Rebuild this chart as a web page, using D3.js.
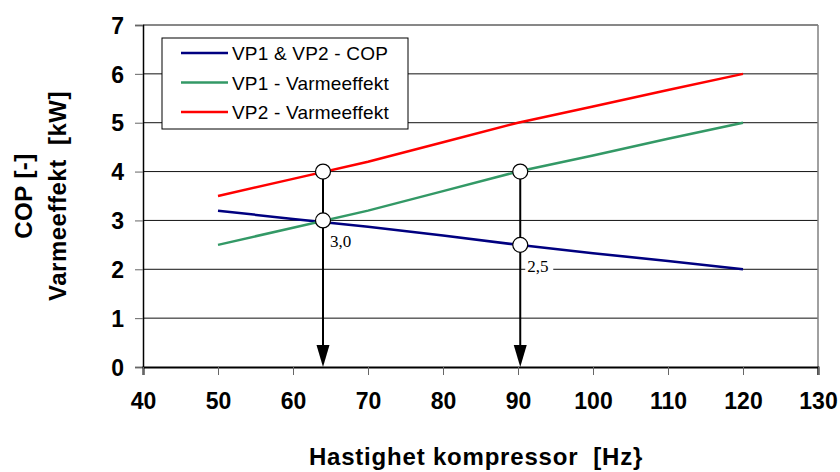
<!DOCTYPE html>
<html><head><meta charset="utf-8">
<script src="https://cdn.jsdelivr.net/npm/d3@7"></script>
<style>body{margin:0;background:#fff}svg{display:block}</style>
</head><body>
<script>
const speeds = [50, 60, 70, 80, 90, 100, 110, 120];
const copValues = [3.2, 3.03, 2.87, 2.69, 2.5, 2.33, 2.17, 2.0];
const vp1Heat = [2.5, 2.85, 3.2, 3.6, 4.0, 4.33, 4.67, 5.0];
const vp2Heat = [3.5, 3.85, 4.2, 4.6, 5.0, 5.33, 5.67, 6.0];
const seriesNames = ["VP1 & VP2 - COP", "VP1 - Varmeeffekt", "VP2 - Varmeeffekt"];
const seriesColors = ["#000080", "#339966", "#ff0000"];
const xTicks = [40, 50, 60, 70, 80, 90, 100, 110, 120, 130];
const yTicks = [0, 1, 2, 3, 4, 5, 6, 7];
const markX = [64.0, 64.0, 90.3, 90.3];
const markY = [4, 3, 4, 2.5];
const arrowX = [64.0, 90.3];
const arrowTopY = [4, 4];
const noteLabels = ["3,0", "2,5"];
const noteX = [64.0, 90.3];
const noteY = [3, 2.5];

const W = 840, H = 472;
const SANS = "Liberation Sans, Arial, sans-serif";
const svg = d3.select("body").append("svg").attr("width", W).attr("height", H);
const x = d3.scaleLinear().domain([40, 130]).range([143, 818]);
const y = d3.scaleLinear().domain([0, 7]).range([367, 25]);

// gridlines
svg.append("g").selectAll("line").data(yTicks.filter(d => d > 0)).join("line")
  .attr("x1", x(40)).attr("x2", x(130))
  .attr("y1", d => y(d)).attr("y2", d => y(d))
  .attr("stroke", "#111").attr("stroke-width", 1);
// right border
svg.append("line").attr("x1", x(130)).attr("x2", x(130)).attr("y1", y(7)).attr("y2", y(0) + 8)
  .attr("stroke", "#808080").attr("stroke-width", 1.5);

// axes
const yAxis = d3.axisLeft(y).tickValues(yTicks).tickFormat(d3.format("d")).tickSize(8).tickPadding(11);
const gy = svg.append("g").attr("transform", `translate(${x(40)},0)`).call(yAxis);
gy.select(".domain").attr("stroke", "#000").attr("stroke-width", 1.5);
gy.selectAll(".tick line").attr("stroke", "#666");
gy.selectAll("text").attr("font-family", SANS).attr("dy", "0.36em")
  .attr("font-weight", "bold").attr("font-size", 23).attr("fill", "#000");

const xAxis = d3.axisBottom(x).tickValues(xTicks).tickSize(8).tickPadding(18);
const gx = svg.append("g").attr("transform", `translate(0,${y(0)})`).call(xAxis);
gx.select(".domain").attr("stroke", "#000").attr("stroke-width", 2);
gx.selectAll(".tick line").attr("stroke", "#666");
gx.selectAll("text").attr("font-family", SANS)
  .attr("font-weight", "bold").attr("font-size", 23).attr("fill", "#000");

// series
const allSeries = [copValues, vp1Heat, vp2Heat];
const line = d3.line().x((d, i) => x(speeds[i])).y(d => y(d));
allSeries.forEach((vals, k) => {
  svg.append("path").datum(vals).attr("d", line).attr("fill", "none")
    .attr("stroke", seriesColors[k]).attr("stroke-width", 2.5);
});

// notes (white backing breaks the gridline as in the original)
noteLabels.forEach((t, i) => {
  svg.append("rect").attr("x", x(noteX[i]) + 5).attr("y", y(noteY[i]) + 12)
    .attr("width", 28).attr("height", 18).attr("fill", "#fff");
  svg.append("text").attr("x", x(noteX[i]) + 7).attr("y", y(noteY[i]) + 27)
    .attr("font-family", "Liberation Serif, Times New Roman, serif").attr("font-size", 17)
    .attr("fill", "#000").text(t);
});

// arrows
arrowX.forEach((ax, i) => {
  svg.append("line").attr("x1", x(ax)).attr("x2", x(ax))
    .attr("y1", y(arrowTopY[i])).attr("y2", y(0) - 12)
    .attr("stroke", "#000").attr("stroke-width", 2);
  svg.append("path").attr("d", `M${x(ax)-6.5},${y(0)-22} L${x(ax)+6.5},${y(0)-22} L${x(ax)},${y(0)} Z`)
    .attr("fill", "#000");
});

// markers
svg.append("g").selectAll("circle").data(markX).join("circle")
  .attr("cx", d => x(d)).attr("cy", (d, i) => y(markY[i])).attr("r", 7.5)
  .attr("fill", "#fff").attr("stroke", "#000").attr("stroke-width", 1.2);

// legend
const lg = svg.append("g");
lg.append("rect").attr("x", 162).attr("y", 38).attr("width", 246).attr("height", 91)
  .attr("fill", "#fff").attr("stroke", "#000").attr("stroke-width", 1);
seriesNames.forEach((n, i) => {
  const ly = 53 + i * 29.5;
  lg.append("line").attr("x1", 181).attr("x2", 228).attr("y1", ly).attr("y2", ly)
    .attr("stroke", seriesColors[i]).attr("stroke-width", 2.5);
  lg.append("text").attr("x", 232).attr("y", ly + 7)
    .attr("font-family", SANS).attr("font-size", 19).attr("letter-spacing", 0.2)
    .style("white-space", "pre").attr("fill", "#000").text(n);
});

// axis titles
svg.append("text").attr("transform", "translate(32,196) rotate(-90)").attr("text-anchor", "middle")
  .attr("font-family", SANS).attr("font-weight", "bold").attr("letter-spacing", 0.5)
  .attr("font-size", 24).style("white-space", "pre").text("COP [-]");
svg.append("text").attr("transform", "translate(66,196) rotate(-90)").attr("text-anchor", "middle")
  .attr("font-family", SANS).attr("font-weight", "bold").attr("letter-spacing", 0.5)
  .attr("font-size", 24).style("white-space", "pre").text("Varmeeffekt  [kW]");
svg.append("text").attr("x", 476).attr("y", 465).attr("text-anchor", "middle")
  .attr("font-family", SANS).attr("font-weight", "bold").attr("letter-spacing", 0.8)
  .attr("font-size", 24).style("white-space", "pre").text("Hastighet kompressor  [Hz}");
</script>
</body></html>
